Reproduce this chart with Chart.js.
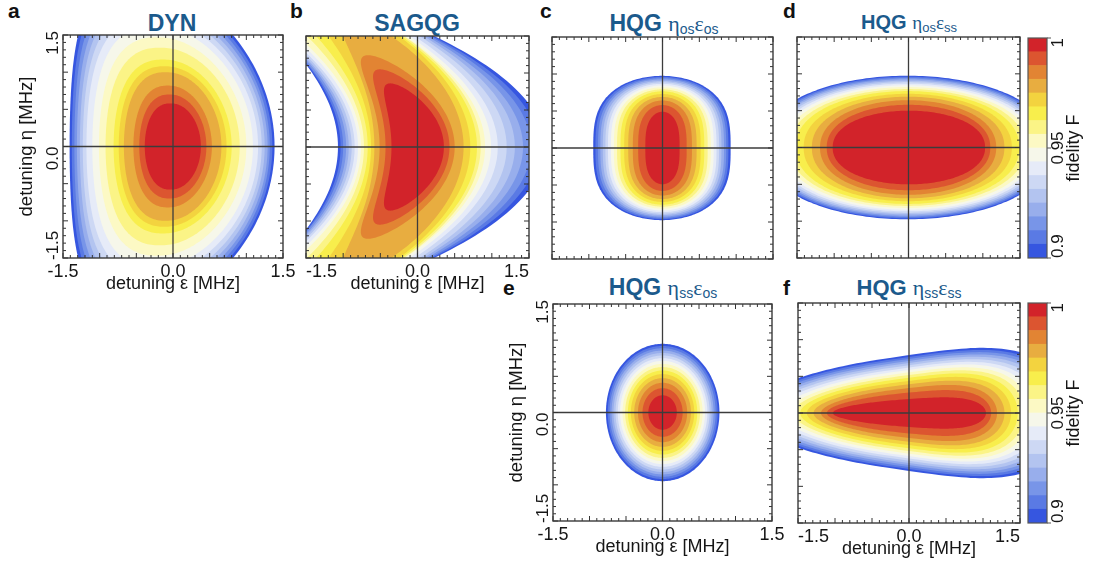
<!DOCTYPE html>
<html>
<head>
<meta charset="utf-8">
<script src="https://cdn.jsdelivr.net/npm/chart.js@4.4.1/dist/chart.umd.min.js"></script>
<style>
  html, body { margin: 0; padding: 0; background: #fff; }
  body { width: 1093px; height: 565px; position: relative; overflow: hidden;
         font-family: "Liberation Sans", Arial, Helvetica, sans-serif; }
  canvas { position: absolute; }
  .ttl { position: absolute; color: #1b5a8c; font-weight: bold; font-size: 23px; line-height: 23px;
         white-space: nowrap; transform: translateX(-50%); }
  .ttl .g { font-family: "Liberation Serif", "DejaVu Serif", serif; font-weight: normal; font-size: 22px; }
  .ttl sub { font-family: "Liberation Sans", Arial, sans-serif; font-weight: normal; font-size: 14px;
             vertical-align: -3px; line-height: 0; }
  .lt { position: absolute; font-weight: bold; font-size: 21px; line-height: 21px; color: #111; }
</style>
</head>
<body>
<div class="lt" style="left:8px;top:0px">a</div>
<div class="lt" style="left:290px;top:0px">b</div>
<div class="lt" style="left:540px;top:0px">c</div>
<div class="lt" style="left:783px;top:0px">d</div>
<div class="lt" style="left:503px;top:277px">e</div>
<div class="lt" style="left:783px;top:277px">f</div>

<div class="ttl" style="left:172px;top:12px">DYN</div>
<div class="ttl" style="left:417px;top:12px">SAGQG</div>
<div class="ttl" style="left:664px;top:12px">HQG <span class="g">η</span><sub>os</sub><span class="g">ε</span><sub>os</sub></div>
<div class="ttl" style="left:909px;top:11px;font-size:20px">HQG <span class="g" style="font-size:19px">η</span><sub style="font-size:13px">os</sub><span class="g" style="font-size:19px">ε</span><sub style="font-size:13px">ss</sub></div>
<div class="ttl" style="left:663px;top:276px">HQG <span class="g">η</span><sub>ss</sub><span class="g">ε</span><sub>os</sub></div>
<div class="ttl" style="left:909px;top:276px;font-size:22px">HQG <span class="g">η</span><sub>ss</sub><span class="g">ε</span><sub>ss</sub></div>

<script>
// ---- fidelity bands (lower edge of each filled band) and their colours ----
const fidelityLevels = [0.9, 0.90625, 0.9125, 0.91875, 0.925, 0.93125, 0.9375, 0.94375,
                        0.95, 0.95625, 0.9625, 0.96875, 0.975, 0.98125, 0.9875, 0.99375];
const fidelityMax = 1.0;
const bandColors = ['#3656e0', '#5a7ae4', '#7895e8', '#98aeec', '#b3c4f0', '#cdd8f4', '#e6ebf8', '#f6f7ea',
                    '#fcf9c4', '#fbf486', '#f8ee4c', '#f3d33f', '#e8ad40', '#e28433', '#dc5530', '#d2232a'];

// axis tick labels (MHz)
const epsTicks = [-1.5, 0.0, 1.5];
const etaTicks = [-1.5, 0.0, 1.5];
const cbarTicks = [0.9, 0.95, 1];

// ---- contour extents per fidelity level (MHz) ----
// left / right: detuning ε where the contour crosses η = 0
// half: half-height of the contour in detuning η

// a: DYN
const dynLeft  = [-1.41, -1.38, -1.345, -1.31, -1.27, -1.23, -1.18, -1.1, -1.01, -0.92, -0.81, -0.74, -0.67, -0.54, -0.46, -0.385];
const dynRight = [1.385, 1.355, 1.32, 1.29, 1.25, 1.21, 1.16, 1.09, 1.0, 0.91, 0.8, 0.73, 0.66, 0.53, 0.455, 0.38];
const dynHalf  = [2.21, 2.15, 2.08, 2.0, 1.92, 1.83, 1.73, 1.62, 1.47, 1.33, 1.17, 1.08, 1.0, 0.82, 0.7, 0.58];

// b: SAGQG (contours curve back toward -ε away from η = 0; bend per level)
const sagLeft  = [-1.07, -1.035, -1.0, -0.96, -0.925, -0.885, -0.845, -0.8, -0.76, -0.72, -0.67, -0.625, -0.58, -0.51, -0.43, -0.35];
const sagRight = [1.72, 1.63, 1.53, 1.42, 1.31, 1.2, 1.08, 0.99, 0.91, 0.85, 0.8, 0.71, 0.62, 0.5, 0.43, 0.355];
const sagHalf  = [2.2, 2.3, 2.45, 2.6, 2.8, 3.0, 3.2, 3.1, 3.0, 2.7, 2.4, 2.13, 1.78, 1.24, 1.05, 0.86];
const sagBend  = [0.5, 0.495, 0.49, 0.48, 0.47, 0.46, 0.45, 0.44, 0.43, 0.4, 0.38, 0.34, 0.31, 0.43, 0.46, 0.5];

// c: HQG η_os ε_os
const cLeft  = [-0.94, -0.91, -0.875, -0.843, -0.81, -0.775, -0.74, -0.7, -0.66, -0.617, -0.57, -0.52, -0.465, -0.403, -0.33, -0.233];
const cRight = [0.925, 0.895, 0.865, 0.835, 0.8, 0.768, 0.733, 0.695, 0.655, 0.613, 0.567, 0.518, 0.463, 0.4, 0.328, 0.232];
const cHalf  = [0.975, 0.96, 0.943, 0.926, 0.907, 0.888, 0.867, 0.845, 0.82, 0.793, 0.766, 0.729, 0.69, 0.642, 0.58, 0.49];

// d: HQG η_os ε_ss
const dLeft  = [-1.97, -1.95, -1.92, -1.89, -1.86, -1.82, -1.78, -1.73, -1.67, -1.6, -1.52, -1.41, -1.3, -1.19, -1.1, -1.02];
const dRight = [1.94, 1.92, 1.89, 1.86, 1.83, 1.79, 1.75, 1.7, 1.64, 1.57, 1.49, 1.39, 1.29, 1.18, 1.1, 1.03];
const dHalf  = [0.975, 0.96, 0.943, 0.926, 0.907, 0.888, 0.867, 0.845, 0.82, 0.793, 0.766, 0.729, 0.69, 0.642, 0.58, 0.5];

// e: HQG η_ss ε_os
const eLeft  = [-0.775, -0.75, -0.725, -0.698, -0.671, -0.643, -0.613, -0.581, -0.548, -0.512, -0.474, -0.433, -0.388, -0.336, -0.274, -0.194];
const eRight = [0.78, 0.755, 0.728, 0.7, 0.673, 0.645, 0.615, 0.583, 0.55, 0.514, 0.476, 0.435, 0.39, 0.338, 0.276, 0.196];
const eHalf  = [0.95, 0.92, 0.888, 0.856, 0.823, 0.788, 0.751, 0.713, 0.672, 0.628, 0.581, 0.531, 0.475, 0.411, 0.336, 0.238];

// f: HQG η_ss ε_ss
const fLeft  = [-2.2, -2.14, -2.08, -2.02, -1.95, -1.88, -1.8, -1.72, -1.64, -1.56, -1.47, -1.38, -1.29, -1.19, -1.11, -1.03];
const fRight = [2.2, 2.14, 2.08, 2.02, 1.95, 1.88, 1.8, 1.72, 1.64, 1.56, 1.47, 1.38, 1.29, 1.19, 1.11, 1.04];
const fHalf  = [0.79, 0.765, 0.738, 0.71, 0.682, 0.652, 0.62, 0.588, 0.554, 0.518, 0.48, 0.438, 0.392, 0.34, 0.278, 0.19];

// ---- drawing setup ----
const FONT = '"Liberation Sans", Arial, Helvetica, sans-serif';
const INK = '#161616';
const EPS_TITLE = 'detuning ε [MHz]';
const ETA_TITLE = 'detuning η [MHz]';

// Closed contour outline: a superellipse spanning [left, right] at η = 0 with the given
// half-height; `bend` curves the contour toward -ε with growing |η|, `taper` widens it toward +ε.
function contourOutline(left, right, half, shape, bend) {
  const x0 = (left + right) / 2, a = (right - left) / 2;
  const pts = [];
  const n = 240;
  for (let i = 0; i <= n; i++) {
    const th = 2 * Math.PI * i / n;
    const c = Math.cos(th), s = Math.sin(th);
    const u = Math.sign(c) * Math.pow(Math.abs(c), 2 / shape.pe);
    const v = Math.sign(s) * Math.pow(Math.abs(s), 2 / shape.ph);
    const y = half * v * (1 + shape.taper * u);
    pts.push({ x: x0 + a * u - bend * y * y, y: y });
  }
  return pts;
}

function rotText(ctx, text, x, y, align, baseline) {
  ctx.save();
  ctx.translate(x, y);
  ctx.rotate(-Math.PI / 2);
  ctx.textAlign = align;
  ctx.textBaseline = baseline;
  ctx.fillText(text, 0, 0);
  ctx.restore();
}

// frame, inward ticks on all four sides, and the ε = 0 / η = 0 cross
const framePlugin = {
  id: 'frameTicks',
  afterDatasetsDraw(chart) {
    const { ctx, chartArea: a, scales: { x, y } } = chart;
    ctx.save();
    ctx.strokeStyle = '#3c3c3c';
    ctx.lineWidth = 1.3;
    const px0 = x.getPixelForValue(0), py0 = y.getPixelForValue(0);
    ctx.beginPath();
    ctx.moveTo(px0, a.top); ctx.lineTo(px0, a.bottom);
    ctx.moveTo(a.left, py0); ctx.lineTo(a.right, py0);
    ctx.stroke();
    ctx.lineWidth = 1;
    ctx.strokeStyle = '#333';
    ctx.beginPath();
    for (let i = -15; i <= 15; i++) {
      const v = i / 10;
      const len = (i % 5 === 0) ? 5 : 3;
      const px = x.getPixelForValue(v), py = y.getPixelForValue(v);
      ctx.moveTo(px, a.bottom); ctx.lineTo(px, a.bottom - len);
      ctx.moveTo(px, a.top); ctx.lineTo(px, a.top + len);
      ctx.moveTo(a.left, py); ctx.lineTo(a.left + len, py);
      ctx.moveTo(a.right, py); ctx.lineTo(a.right - len, py);
    }
    ctx.stroke();
    ctx.lineWidth = 1.4;
    ctx.strokeStyle = '#3a3a3a';
    ctx.strokeRect(a.left, a.top, a.right - a.left, a.bottom - a.top);
    ctx.restore();
  }
};

// rotated η tick labels on the left of the frame
const etaLabelPlugin = {
  id: 'etaLabels',
  afterDraw(chart) {
    const opts = chart.options.plugins.etaLabels;
    if (!opts || !opts.show) return;
    const { ctx, chartArea: a, scales: { y } } = chart;
    ctx.save();
    ctx.fillStyle = INK;
    ctx.font = '17px ' + FONT;
    etaTicks.forEach(v => {
      const py = y.getPixelForValue(v);
      const txt = v.toFixed(1);
      if (v > 0) rotText(ctx, txt, a.left - 5, py - 4, 'right', 'alphabetic');
      else if (v < 0) rotText(ctx, txt, a.left - 5, py + 2, 'left', 'alphabetic');
      else rotText(ctx, txt, a.left - 5, py, 'right', 'alphabetic');
    });
    ctx.restore();
  }
};

const panels = [
  { frame: [63, 35, 283, 258], left: dynLeft, right: dynRight, half: dynHalf,
    shape: { pe: 2.2, ph: 2, bend: 0.1, taper: 0 }, xAxis: true, yAxis: true, tickAlign: 'center' },
  { frame: [306, 36, 529, 258], left: sagLeft, right: sagRight, half: sagHalf,
    shape: { pe: 2, ph: 2, bend: sagBend, taper: 0 }, xAxis: true, yAxis: false, tickAlign: 'inner' },
  { frame: [552, 37, 773, 259], left: cLeft, right: cRight, half: cHalf,
    shape: { pe: 2, ph: 3, bend: 0, taper: 0 }, xAxis: false, yAxis: false },
  { frame: [797, 37, 1020, 258], left: dLeft, right: dRight, half: dHalf,
    shape: { pe: 2, ph: 2.2, bend: 0, taper: 0 }, xAxis: false, yAxis: false },
  { frame: [553, 304, 772, 521], left: eLeft, right: eRight, half: eHalf,
    shape: { pe: 2, ph: 2, bend: 0, taper: 0 }, xAxis: true, yAxis: true, tickAlign: 'center' },
  { frame: [798, 303, 1020, 523], left: fLeft, right: fRight, half: fHalf,
    shape: { pe: 3, ph: 2, bend: 0, taper: 0.4 }, xAxis: true, yAxis: false, tickAlign: 'inner' }
];

function makeCanvas(frame, pad) {
  const [fl, ft, fr, fb] = frame;
  const cv = document.createElement('canvas');
  const W = fr - fl + pad.l + pad.r, H = fb - ft + pad.t + pad.b;
  cv.width = W; cv.height = H;
  cv.style.left = (fl - pad.l) + 'px';
  cv.style.top = (ft - pad.t) + 'px';
  cv.style.width = W + 'px';
  cv.style.height = H + 'px';
  document.body.appendChild(cv);
  return cv;
}

function buildPanel(p) {
  const pad = { l: p.yAxis ? 62 : 16, t: 4, r: 16, b: p.xAxis ? 48 : 8 };
  const cv = makeCanvas(p.frame, pad);
  const datasets = fidelityLevels.map((lvl, k) => ({
    label: 'F ≥ ' + lvl,
    data: contourOutline(p.left[k], p.right[k], p.half[k], p.shape,
                         Array.isArray(p.shape.bend) ? p.shape.bend[k] : p.shape.bend),
    showLine: true,
    fill: 'shape',
    backgroundColor: bandColors[k],
    borderColor: bandColors[k],
    borderWidth: 0,
    borderDash: [1, 0],
    pointRadius: 0,
    pointHoverRadius: 0,
    order: 15 - k
  }));
  // hidden axes take no room; visible axes get a fixed band so the frame lands exactly
  const xScale = {
    type: 'linear', min: -1.5, max: 1.5, display: p.xAxis,
    grid: { display: false, drawTicks: false },
    border: { display: false },
    ticks: { padding: 3, autoSkip: false, maxRotation: 0, minRotation: 0, color: INK,
             align: p.tickAlign || 'center', font: { family: FONT, size: 18 },
             callback: v => Number(v).toFixed(1) },
    title: { display: p.xAxis, text: EPS_TITLE, color: INK, font: { family: FONT, size: 18 },
             padding: { top: 0, bottom: 11 } }
  };
  if (p.xAxis) {
    xScale.afterBuildTicks = s => { s.ticks = epsTicks.map(v => ({ value: v })); };
    xScale.afterFit = s => { s.height = pad.b; };
  }
  const yScale = {
    type: 'linear', min: -1.5, max: 1.5, display: p.yAxis,
    grid: { display: false, drawTicks: false },
    border: { display: false },
    ticks: { display: false },
    title: { display: p.yAxis, text: ETA_TITLE, color: INK, font: { family: FONT, size: 18.5 },
             padding: { top: 15, bottom: 0 } }
  };
  if (p.yAxis) {
    yScale.afterFit = s => { s.width = pad.l; };
  }
  new Chart(cv, {
    type: 'scatter',
    data: { datasets },
    options: {
      responsive: false,
      animation: false,
      events: [],
      devicePixelRatio: 1,
      layout: { padding: { left: p.yAxis ? 0 : pad.l, top: pad.t, right: pad.r, bottom: p.xAxis ? 0 : pad.b } },
      plugins: { legend: { display: false }, tooltip: { enabled: false }, etaLabels: { show: p.yAxis } },
      scales: { x: xScale, y: yScale }
    },
    plugins: [framePlugin, etaLabelPlugin]
  });
}

// colour bar: one floating bar segment per fidelity band
const colorbarPlugin = {
  id: 'colorbarDeco',
  afterDatasetsDraw(chart) {
    const { ctx, chartArea: a, scales: { y } } = chart;
    ctx.save();
    ctx.strokeStyle = '#555';
    ctx.lineWidth = 1.2;
    ctx.strokeRect(a.left, a.top, a.right - a.left, a.bottom - a.top);
    ctx.beginPath();
    cbarTicks.forEach(v => {
      const py = y.getPixelForValue(v);
      ctx.moveTo(a.right, py); ctx.lineTo(a.right + 4, py);
    });
    ctx.stroke();
    ctx.fillStyle = INK;
    ctx.font = '17px ' + FONT;
    cbarTicks.forEach(v => {
      const py = y.getPixelForValue(v);
      const txt = String(v);
      if (v === 1) rotText(ctx, txt, a.right + 3, py, 'right', 'top');
      else if (v === 0.9) rotText(ctx, txt, a.right + 3, py, 'left', 'top');
      else rotText(ctx, txt, a.right + 3, py, 'center', 'top');
    });
    ctx.font = '18px ' + FONT;
    rotText(ctx, 'fidelity F', a.right + 27, (a.top + a.bottom) / 2, 'center', 'middle');
    ctx.restore();
  }
};

function buildColorbar(frame) {
  const pad = { l: 2, t: 4, r: 50, b: 6 };
  const cv = makeCanvas(frame, pad);
  const datasets = fidelityLevels.map((lvl, k) => ({
    label: 'band ' + k,
    data: [[lvl, k < fidelityLevels.length - 1 ? fidelityLevels[k + 1] : fidelityMax]],
    backgroundColor: bandColors[k],
    borderWidth: 0,
    barPercentage: 1,
    categoryPercentage: 1,
    grouped: false
  }));
  new Chart(cv, {
    type: 'bar',
    data: { labels: ['F'], datasets },
    options: {
      responsive: false,
      animation: false,
      events: [],
      devicePixelRatio: 1,
      layout: { padding: { left: pad.l, top: pad.t, right: pad.r, bottom: pad.b } },
      plugins: { legend: { display: false }, tooltip: { enabled: false } },
      scales: {
        x: { display: false },
        y: { display: false, min: 0.9, max: 1 }
      }
    },
    plugins: [colorbarPlugin]
  });
}

panels.forEach(buildPanel);
buildColorbar([1028, 38, 1047, 258]);
buildColorbar([1028, 303, 1047, 523]);
</script>
</body>
</html>
